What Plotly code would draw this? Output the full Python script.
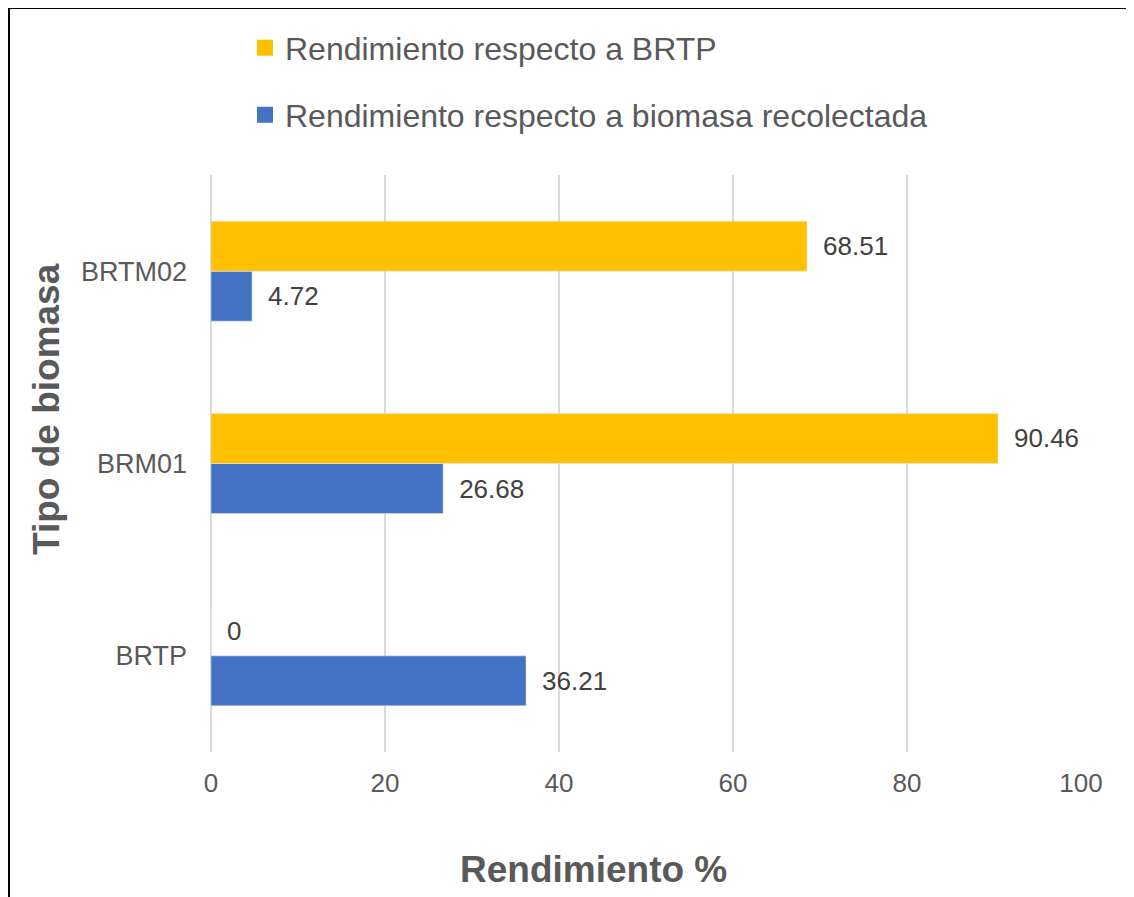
import plotly.graph_objects as go

categories = ["BRTP", "BRM01", "BRTM02"]
rend_biomasa = [36.21, 26.68, 4.72]
rend_brtp = [0, 90.46, 68.51]
name_biomasa = "Rendimiento respecto a biomasa recolectada"
name_brtp = "Rendimiento respecto a BRTP"
x_ticks = [0, 20, 40, 60, 80, 100]
x_title = "Rendimiento %"
y_title = "Tipo de biomasa"

BLUE = "#4472C4"
YELLOW = "#FFC000"
GREY = "#595959"
LABEL = "#404040"
FONT = "Liberation Sans, Arial, sans-serif"

OFF = 8  # page body margin
W, H = 1134 - OFF, 897 - OFF
L, R, T, B = 211 - OFF, 53, 175 - OFF, 145
PW, PH = W - L - R, H - T - B

def px_x(p):
    return (p - OFF - L) / PW

def px_y(p):
    return (H - B - (p - OFF)) / PH

fig = go.Figure()
fig.add_trace(go.Bar(
    y=categories, x=rend_biomasa, orientation="h", marker_color=BLUE,
    name=name_biomasa, showlegend=False,
    texttemplate="\u2002%{x}", textposition="outside",
    textfont=dict(size=26, color=LABEL, family=FONT),
    cliponaxis=False, constraintext="none",
))
fig.add_trace(go.Bar(
    y=categories, x=rend_brtp, orientation="h", marker_color=YELLOW,
    name=name_brtp, showlegend=False,
    texttemplate="\u2002%{x}", textposition="outside",
    textfont=dict(size=26, color=LABEL, family=FONT),
    cliponaxis=False, constraintext="none",
))
# legend entries with larger square swatches
fig.add_trace(go.Scatter(
    x=[None], y=[None], mode="markers", name=name_brtp,
    marker=dict(symbol="square", size=17, color=YELLOW), legend="legend",
))
fig.add_trace(go.Scatter(
    x=[None], y=[None], mode="markers", name=name_biomasa,
    marker=dict(symbol="square", size=17, color=BLUE), legend="legend2",
))

fig.update_layout(
    width=W, height=H,
    margin=dict(l=L, r=R, t=T, b=B, autoexpand=False),
    paper_bgcolor="white", plot_bgcolor="white",
    barmode="group", bargap=0.48, bargroupgap=0,
    font=dict(family=FONT, color=GREY),
    legend=dict(x=px_x(245), y=px_y(48), xanchor="left", yanchor="middle",
                font=dict(size=32, color=GREY, family=FONT), bgcolor="rgba(0,0,0,0)"),
    legend2=dict(x=px_x(245), y=px_y(115), xanchor="left", yanchor="middle",
                 font=dict(size=32, color=GREY, family=FONT), bgcolor="rgba(0,0,0,0)"),
    xaxis=dict(
        range=[0, 100], tickvals=x_ticks, showgrid=True, gridcolor="#D9D9D9", gridwidth=2,
        zeroline=True, zerolinecolor="#D9D9D9", zerolinewidth=2, showline=False,
        ticks="", ticklabelstandoff=13,
        tickfont=dict(size=26, color=GREY, family=FONT),
        fixedrange=True, automargin=False,
    ),
    yaxis=dict(
        type="category", categoryorder="array", categoryarray=categories,
        range=[-0.5, 2.5], showgrid=False, zeroline=False, showline=False,
        ticks="", ticklabelstandoff=23,
        tickfont=dict(size=27, color=GREY, family=FONT),
        fixedrange=True, automargin=False,
    ),
    annotations=[
        dict(text="<b>" + x_title + "</b>", xref="paper", yref="paper",
             x=px_x(593), y=px_y(869), xanchor="center", yanchor="middle",
             showarrow=False, font=dict(size=37, color=GREY, family=FONT)),
        dict(text="<b>" + y_title + "</b>", xref="paper", yref="paper",
             x=px_x(46), y=px_y(409), xanchor="center", yanchor="middle",
             textangle=-90, showarrow=False,
             font=dict(size=37, color=GREY, family=FONT)),
    ],
    shapes=[
        dict(type="line", xref="paper", yref="paper", x0=px_x(9), x1=px_x(9),
             y0=px_y(7), y1=px_y(897 + 5), line=dict(color="black", width=2)),
        dict(type="line", xref="paper", yref="paper", x0=px_x(8), x1=px_x(1134 + 5),
             y0=px_y(8), y1=px_y(8), line=dict(color="black", width=2)),
    ],
)

fig.write_html("out.html", config={"displayModeBar": False})
